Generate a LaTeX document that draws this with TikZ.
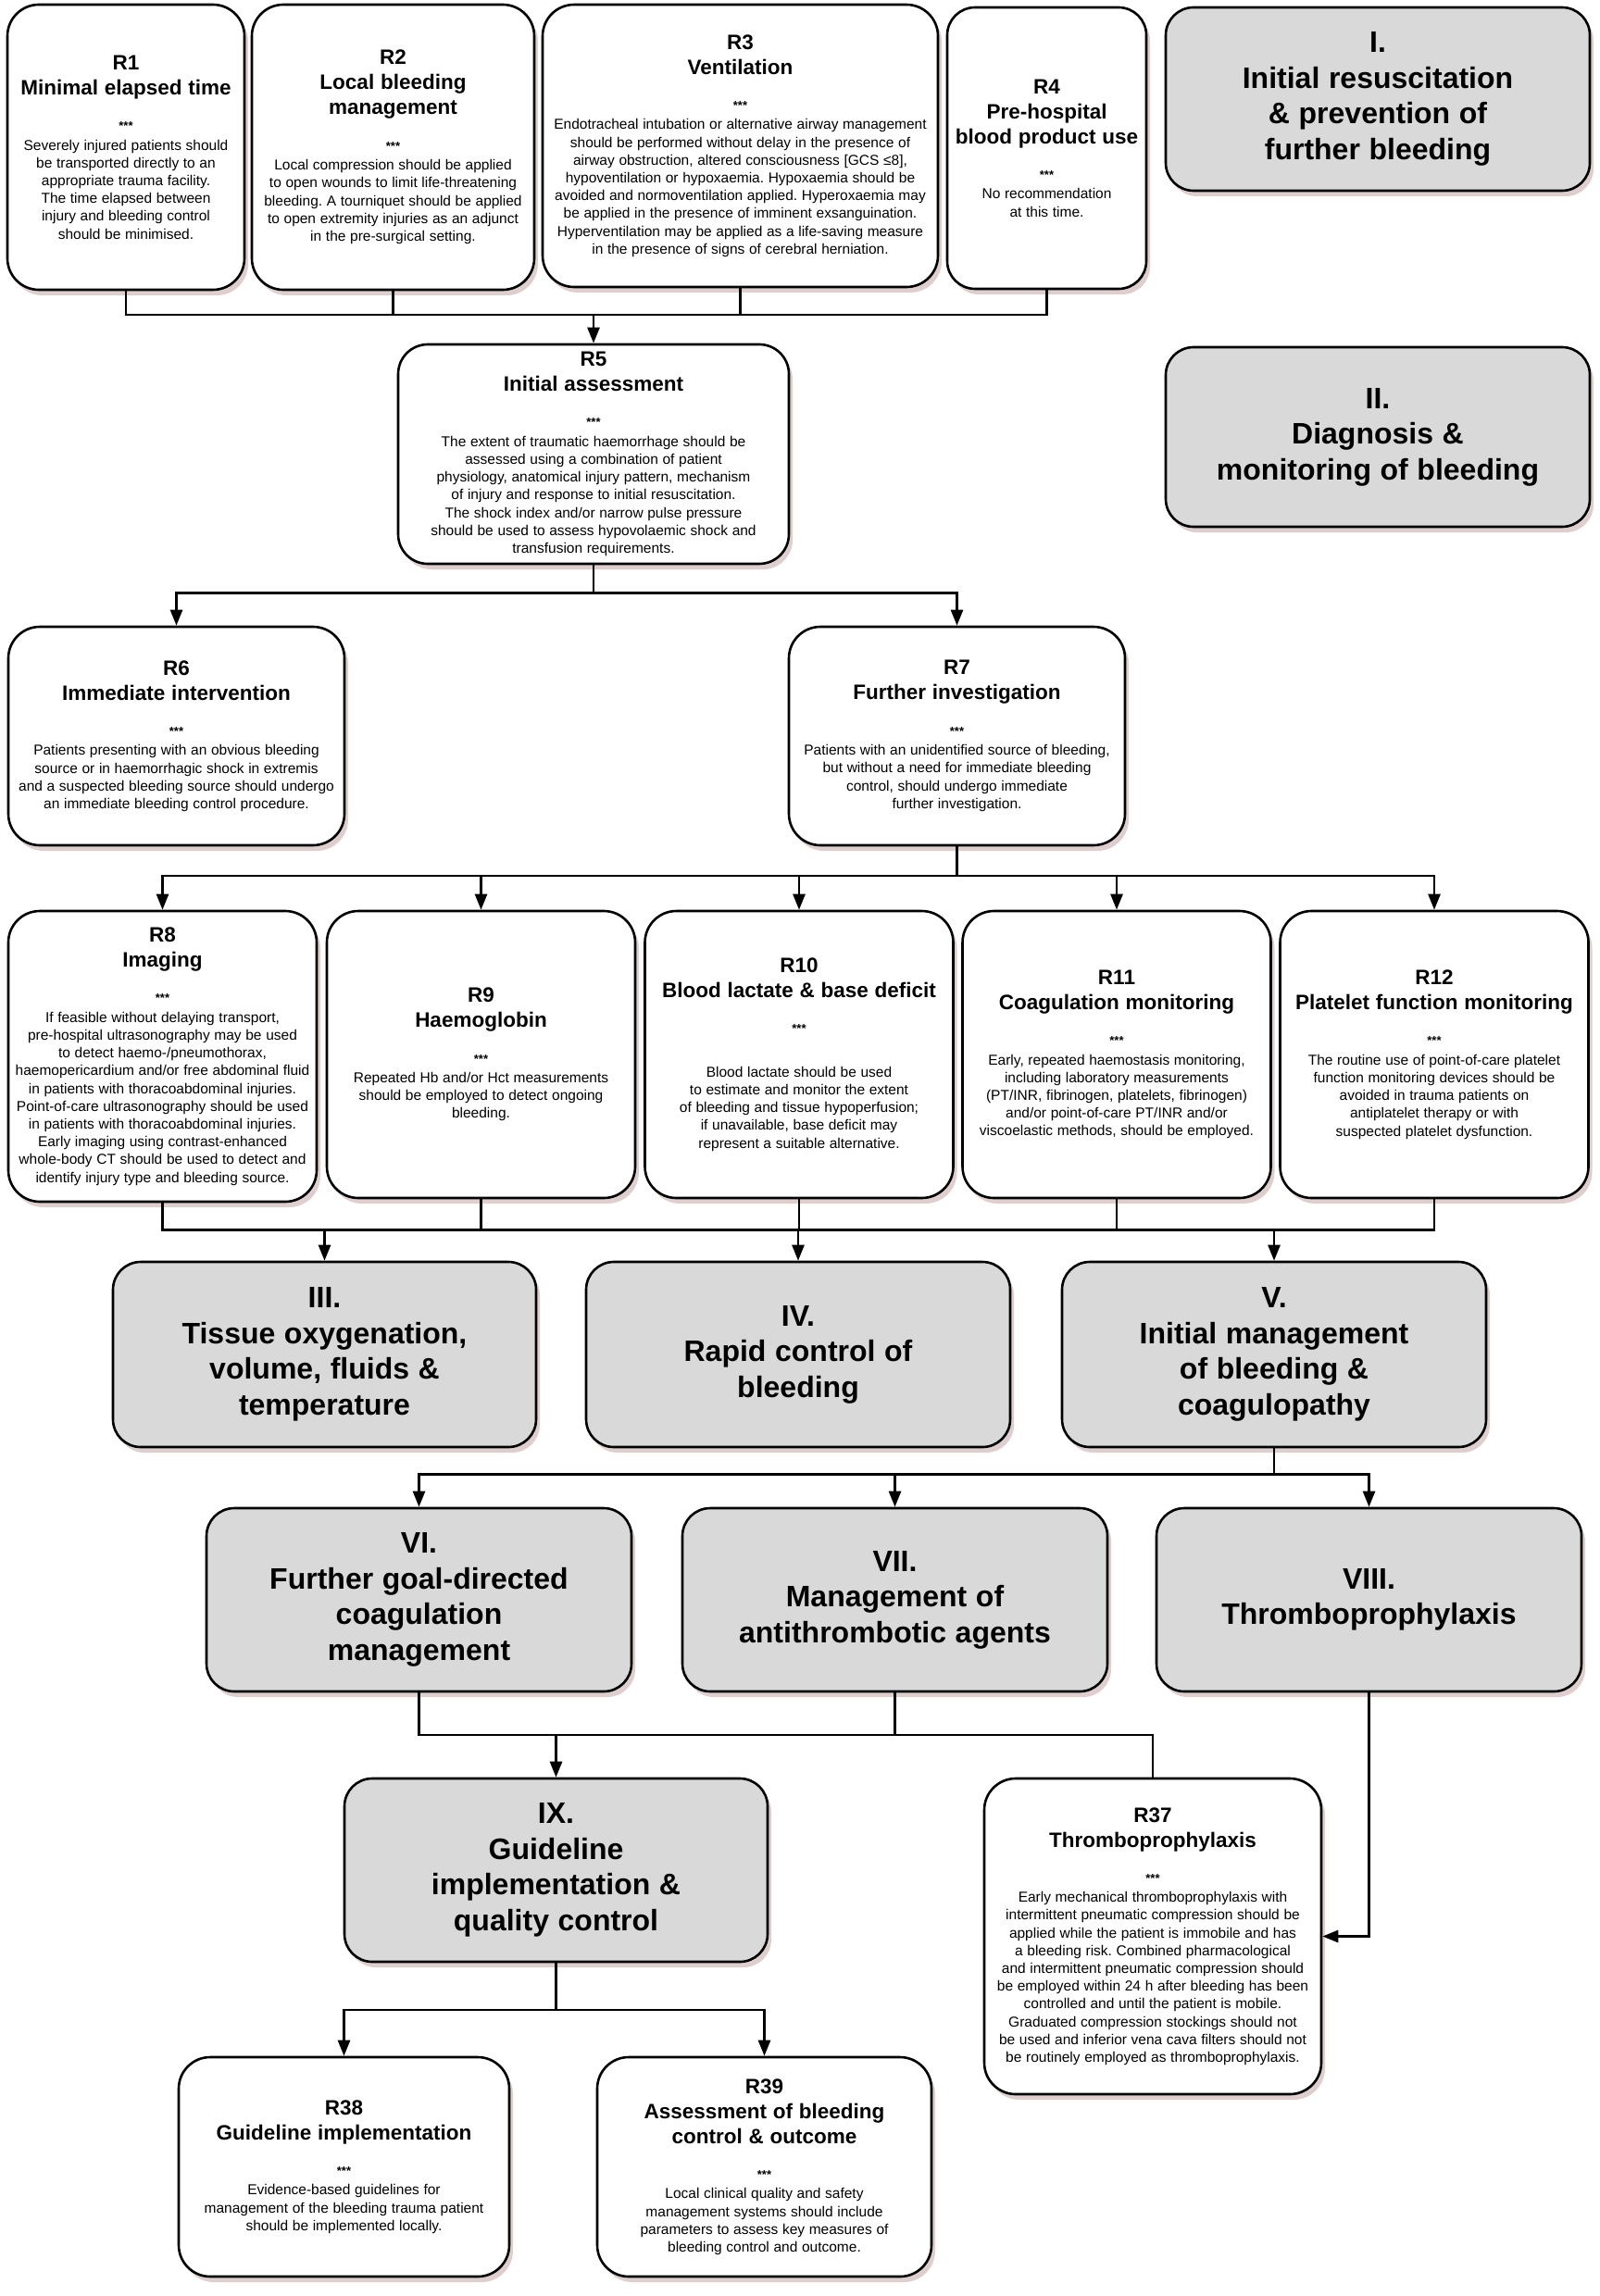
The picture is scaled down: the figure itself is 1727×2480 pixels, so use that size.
\documentclass[tikz,border=0pt]{standalone}
\usepackage{fontspec}
\setmainfont{Liberation Sans}
\usetikzlibrary{arrows.meta,shadows}
\setlength{\parindent}{0pt}
\definecolor{boxgray}{RGB}{217,217,217}
\definecolor{shadowc}{RGB}{165,115,115}
\newcommand\ws{\spaceskip=0.3em\relax\xspaceskip=0.3em\relax}
\newcommand\rtext[4][0pt]{%
  {\fontsize{22.5}{27}\selectfont\bfseries\ws #2\\#3\par}%
  {\fontsize{13}{38.3}\selectfont\bfseries ***\par}%
  \vspace{\dimexpr 2.2pt+#1\relax}%
  {\fontsize{15.5}{19.2}\selectfont\ws #4\par}}
\newcommand\gtext[1]{{\fontsize{32}{38.5}\selectfont\bfseries\ws #1\par}}
\begin{document}
\begin{tikzpicture}[x=1pt,y=-1pt,
  base/.style={draw, line width=2.6pt, align=center, inner sep=0pt,
    drop shadow={shadow xshift=4pt, shadow yshift=-6pt, fill=shadowc, opacity=0.35}},
  rbox/.style={base, fill=white, rounded corners=34pt},
  gbox/.style={base, fill=boxgray, rounded corners=30pt},
  conn/.style={line width=2.6pt},
  arr/.style={conn, -{Triangle[length=17pt,width=13pt]}}]
\fill[white] (0,0) rectangle (1727,2480);
\useasboundingbox (0,0) rectangle (1727,2480);

% ---- top row
\node[rbox, minimum width=256pt, minimum height=308pt, text width=252pt] (R1) at (136,159)
 {\rtext{R1}{Minimal elapsed time}{Severely injured patients should\\be transported directly to an\\appropriate trauma facility.\\The time elapsed between\\injury and bleeding control\\should be minimised.}};
\node[rbox, minimum width=305pt, minimum height=308pt, text width=299pt] (R2) at (424.5,159)
 {\rtext{R2}{Local bleeding\\management}{Local compression should be applied\\to open wounds to limit life-threatening\\bleeding. A tourniquet should be applied\\to open extremity injuries as an adjunct\\in the pre-surgical setting.}};
\node[rbox, minimum width=427pt, minimum height=305pt, text width=423pt] (R3) at (799.5,157.5)
 {\rtext{R3}{Ventilation}{Endotracheal intubation or alternative airway management\\should be performed without delay in the presence of\\airway obstruction, altered consciousness [GCS ≤8],\\hypoventilation or hypoxaemia. Hypoxaemia should be\\avoided and normoventilation applied. Hyperoxaemia may\\be applied in the presence of imminent exsanguination.\\Hyperventilation may be applied as a life-saving measure\\in the presence of signs of cerebral herniation.}};
\node[rbox, rounded corners=30pt, minimum width=215pt, minimum height=304pt, text width=211pt] (R4) at (1130.5,160)
 {\rtext{R4}{Pre-hospital\\blood product use}{No recommendation\\at this time.}};
\node[gbox, minimum width=458pt, minimum height=198pt, text width=450pt] (I) at (1488,107)
 {\gtext{I.\\Initial resuscitation\\\& prevention of\\further bleeding}};
\node[gbox, minimum width=458pt, minimum height=194pt, text width=450pt] (II) at (1488,472)
 {\gtext{II.\\Diagnosis \&\\monitoring of bleeding}};

% ---- R5..R7
\node[rbox, rounded corners=32pt, minimum width=422pt, minimum height=237pt, text width=416pt] (R5) at (641,490.5)
 {\rtext{R5}{Initial assessment}{The extent of traumatic haemorrhage should be\\assessed using a combination of patient\\physiology, anatomical injury pattern, mechanism\\of injury and response to initial resuscitation.\\The shock index and/or narrow pulse pressure\\should be used to assess hypovolaemic shock and\\transfusion requirements.}};
\node[rbox, minimum width=363pt, minimum height=236pt, text width=359pt] (R6) at (190.5,795)
 {\rtext{R6}{Immediate intervention}{Patients presenting with an obvious bleeding\\source or in haemorrhagic shock in extremis\\and a suspected bleeding source should undergo\\an immediate bleeding control procedure.}};
\node[rbox, minimum width=363pt, minimum height=236pt, text width=359pt] (R7) at (1033.5,795)
 {\rtext{R7}{Further investigation}{Patients with an unidentified source of bleeding,\\but without a need for immediate bleeding\\control, should undergo immediate\\further investigation.}};

% ---- R8..R12
\node[rbox, minimum width=333pt, minimum height=314pt, text width=333pt] (R8) at (175.5,1141)
 {\rtext{R8}{Imaging}{If feasible without delaying transport,\\pre-hospital ultrasonography may be used\\to detect haemo-/pneumothorax,\\haemopericardium and/or free abdominal fluid\\in patients with thoracoabdominal injuries.\\Point-of-care ultrasonography should be used\\in patients with thoracoabdominal injuries.\\Early imaging using contrast-enhanced\\whole-body CT should be used to detect and\\identify injury type and bleeding source.}};
\node[rbox, minimum width=333pt, minimum height=310pt, text width=329pt] (R9) at (519.5,1139)
 {\rtext{R9}{Haemoglobin}{Repeated Hb and/or Hct measurements\\should be employed to detect ongoing\\bleeding.}};
\node[rbox, minimum width=333pt, minimum height=310pt, text width=329pt] (R10) at (863,1139)
 {\rtext[26pt]{R10}{Blood lactate \& base deficit}{Blood lactate should be used\\to estimate and monitor the extent\\of bleeding and tissue hypoperfusion;\\if unavailable, base deficit may\\represent a suitable alternative.}};
\node[rbox, minimum width=333pt, minimum height=310pt, text width=329pt] (R11) at (1206,1139)
 {\rtext{R11}{Coagulation monitoring}{Early, repeated haemostasis monitoring,\\including laboratory measurements\\(PT/INR, fibrinogen, platelets, fibrinogen)\\and/or point-of-care PT/INR and/or\\viscoelastic methods, should be employed.}};
\node[rbox, minimum width=333pt, minimum height=310pt, text width=329pt] (R12) at (1549,1139)
 {\rtext{R12}{Platelet function monitoring}{The routine use of point-of-care platelet\\function monitoring devices should be\\avoided in trauma patients on\\antiplatelet therapy or with\\suspected platelet dysfunction.}};

% ---- III..V
\node[gbox, minimum width=457pt, minimum height=200pt, text width=450pt] (III) at (350.5,1463)
 {\gtext{III.\\Tissue oxygenation,\\volume, fluids \&\\temperature}};
\node[gbox, minimum width=458pt, minimum height=200pt, text width=450pt] (IV) at (862,1463)
 {\gtext{IV.\\Rapid control of\\bleeding}};
\node[gbox, minimum width=458pt, minimum height=200pt, text width=450pt] (V) at (1376,1463)
 {\gtext{V.\\Initial management\\of bleeding \&\\coagulopathy}};

% ---- VI..VIII
\node[gbox, minimum width=459pt, minimum height=198pt, text width=450pt] (VI) at (452.5,1728)
 {\gtext{VI.\\Further goal-directed\\coagulation\\management}};
\node[gbox, minimum width=459pt, minimum height=198pt, text width=450pt] (VII) at (966.5,1728)
 {\gtext{VII.\\Management of\\antithrombotic agents}};
\node[gbox, minimum width=459pt, minimum height=198pt, text width=450pt] (VIII) at (1478.5,1728)
 {\gtext{VIII.\\Thromboprophylaxis}};

% ---- IX, R37
\node[gbox, minimum width=457pt, minimum height=198pt, text width=450pt] (IX) at (600.5,2020)
 {\gtext{IX.\\Guideline\\implementation \&\\quality control}};
\node[rbox, minimum width=364pt, minimum height=341pt, text width=360pt] (R37) at (1245,2091.5)
 {\rtext{R37}{Thromboprophylaxis}{Early mechanical thromboprophylaxis with\\intermittent pneumatic compression should be\\applied while the patient is immobile and has\\a bleeding risk. Combined pharmacological\\and intermittent pneumatic compression should\\be employed within 24 h after bleeding has been\\controlled and until the patient is mobile.\\Graduated compression stockings should not\\be used and inferior vena cava filters should not\\be routinely employed as thromboprophylaxis.}};

% ---- R38, R39
\node[rbox, minimum width=357pt, minimum height=237pt, text width=353pt] (R38) at (371.5,2340.5)
 {\rtext{R38}{Guideline implementation}{Evidence-based guidelines for\\management of the bleeding trauma patient\\should be implemented locally.}};
\node[rbox, minimum width=361pt, minimum height=237pt, text width=357pt] (R39) at (825.5,2340.5)
 {\rtext{R39}{Assessment of bleeding\\control \& outcome}{Local clinical quality and safety\\management systems should include\\parameters to assess key measures of\\bleeding control and outcome.}};

% ---- connectors
\coordinate (j1) at (641,340);
\draw[conn] (R1.south) |- (R4.south |- j1) -- (R4.south);
\draw[conn] (R2.south) -- (R2.south |- j1);
\draw[conn] (R3.south) -- (R3.south |- j1);
\draw[arr] (j1) -- (R5.north);

\coordinate (j2) at (641,640.5);
\draw[conn] (R5.south) -- (j2);
\draw[arr] (j2) -| (R6.north);
\draw[arr] (j2) -| (R7.north);

\coordinate (j3) at (1033.5,946);
\draw[conn] (R7.south) -- (j3);
\draw[arr] (j3) -| (R8.north);
\draw[arr] (j3) -| (R9.north);
\draw[arr] (j3) -| (R10.north);
\draw[arr] (j3) -| (R11.north);
\draw[arr] (j3) -| (R12.north);

\coordinate (j4) at (863,1328.5);
\draw[conn] (R8.south) |- (R12.south |- j4) -- (R12.south);
\draw[conn] (R9.south) -- (R9.south |- j4);
\draw[conn] (R10.south) -- (R10.south |- j4);
\draw[conn] (R11.south) -- (R11.south |- j4);
\draw[arr] (III.north |- j4) -- (III.north);
\draw[arr] (IV.north |- j4) -- (IV.north);
\draw[arr] (V.north |- j4) -- (V.north);

\coordinate (j5) at (1376,1592.5);
\draw[conn] (V.south) -- (j5);
\draw[arr] (j5) -| (VI.north);
\draw[arr] (j5) -| (VII.north);
\draw[arr] (j5) -| (VIII.north);

\coordinate (j6) at (600.5,1874);
\draw[conn] (VI.south) |- (R37.north |- j6) -- (R37.north);
\draw[conn] (VII.south) -- (VII.south |- j6);
\draw[arr] (j6) -- (IX.north);
\draw[arr] (VIII.south) |- (R37.east);

\coordinate (j7) at (600.5,2171);
\draw[conn] (IX.south) -- (j7);
\draw[arr] (j7) -| (R38.north);
\draw[arr] (j7) -| (R39.north);
\end{tikzpicture}
\end{document}
